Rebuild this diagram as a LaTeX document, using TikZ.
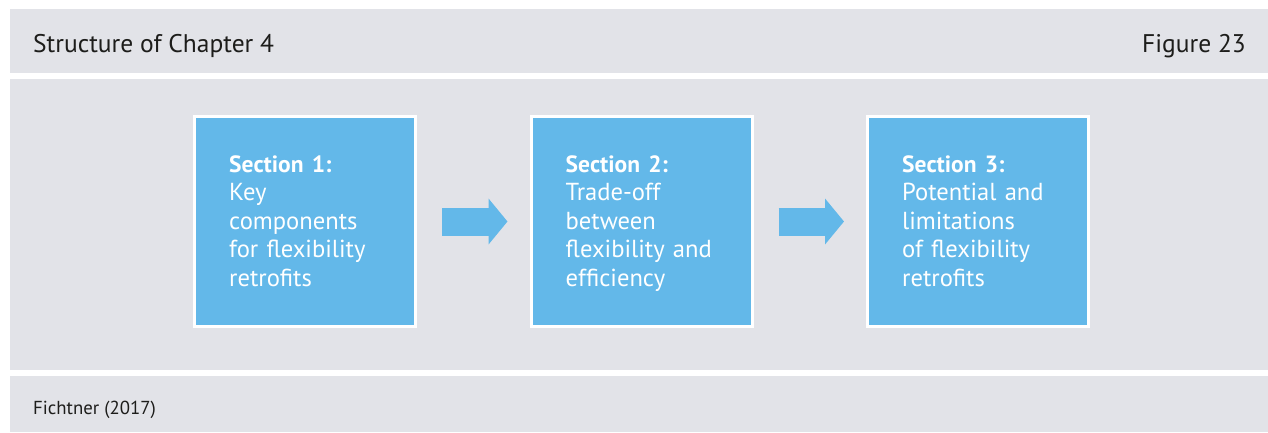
\documentclass[tikz,border=0pt]{standalone}
\usepackage{fontspec}
\setmainfont{PT Sans}
\usetikzlibrary{arrows.meta}
\definecolor{panelgrey}{HTML}{E2E3E8}
\definecolor{boxblue}{HTML}{63B8E9}
\definecolor{textdark}{HTML}{1D1D1B}
\tikzset{
  panel/.style={fill=panelgrey, draw=none},
  secbox/.style={rectangle, fill=boxblue, draw=white, line width=3pt, outer sep=0pt,
    minimum width=221pt, minimum height=210pt, inner sep=0pt},
  sectext/.style={anchor=base west, inner sep=0pt, text=white, text width=195pt, align=left,
    font=\fontsize{24.6}{28.6}\selectfont},
  flowarrow/.style={draw=boxblue, line width=28pt, -{Triangle[width=45pt,length=19pt]}},
  headtext/.style={inner sep=0pt, text=textdark, font=\fontsize{25.5}{29}\selectfont},
  foottext/.style={inner sep=0pt, text=textdark, font=\fontsize{18.8}{22}\selectfont}
}
\newcommand{\sechead}[1]{{\fontsize{23.5}{28.6}\selectfont\bfseries #1}}
\begin{document}
\begin{tikzpicture}[x=1pt,y=-1pt]
\useasboundingbox (0,0) rectangle (1268,432);
\fill[white] (0,0) rectangle (1268,432);
% panels
\path[panel] (10,9) rectangle (1268,73);
\path[panel] (10,79) rectangle (1268,370);
\path[panel] (10,376) rectangle (1268,432);
% header and footer texts
\node[headtext, anchor=base west] (title) at (33,52) {Structure of Chapter 4};
\node[headtext, anchor=base east] (fig) at (1246,52) {Figure 23};
\node[foottext, anchor=base west] (src) at (33,414) {Fichtner (2017)};
% boxes
\node[secbox] (b1) at (305,221.5) {};
\node[secbox] (b2) at (641.5,221.5) {};
\node[secbox] (b3) at (978,221.5) {};
% box texts
\node[sectext] (t1) at ([xshift=34.5pt,yshift=-55.5pt]b1.north west)
  {\sechead{Section 1:}\\Key\\components\\for flexibility\\retrofits};
\node[sectext] (t2) at ([xshift=34.5pt,yshift=-55.5pt]b2.north west)
  {\sechead{Section 2:}\\Trade-off\\between\\flexibility and\\efficiency};
\node[sectext] (t3) at ([xshift=34.5pt,yshift=-55.5pt]b3.north west)
  {\sechead{Section 3:}\\Potential and\\limitations\\of flexibility\\retrofits};
% arrows
\draw[flowarrow] ([xshift=26.5pt]b1.east) -- ([xshift=-23.5pt]b2.west);
\draw[flowarrow] ([xshift=26.5pt]b2.east) -- ([xshift=-23.5pt]b3.west);
\end{tikzpicture}
\end{document}
